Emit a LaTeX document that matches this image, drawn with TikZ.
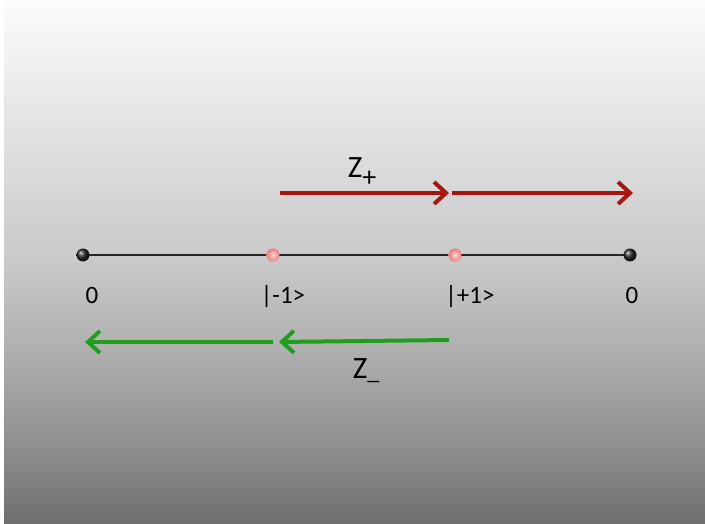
\documentclass[tikz,border=0pt]{standalone}
\usepackage{fontspec}
\setmainfont{Carlito}
\usetikzlibrary{arrows.meta}
\definecolor{g0}{RGB}{252,252,252}
\definecolor{g100}{RGB}{232,232,232}
\definecolor{g255}{RGB}{202,202,202}
\definecolor{g342}{RGB}{178,178,178}
\definecolor{g440}{RGB}{145,145,145}
\definecolor{g524}{RGB}{110,110,110}
\definecolor{zred}{RGB}{170,20,15}
\definecolor{zgreen}{RGB}{30,160,30}
\definecolor{pinkin}{RGB}{255,215,215}
\definecolor{pinkout}{RGB}{238,120,120}
\pgfdeclareverticalshading{bgshade}{100bp}{color(0bp)=(g524); color(25bp)=(g524); color(33bp)=(g440); color(42.4bp)=(g342); color(50.7bp)=(g255); color(65.5bp)=(g100); color(75bp)=(g0); color(100bp)=(g0)}
\tikzset{
  lbl/.style={font=\fontsize{25}{29}\selectfont, inner sep=0pt, anchor=base},
  zlbl/.style={font=\fontsize{31}{36}\selectfont, inner sep=0pt, anchor=base},
  redarrow/.style={draw=zred, line width=4pt, -{Straight Barb[length=12pt,width=22pt,line width=4pt]}},
  greenarrow/.style={draw=zgreen, line width=4pt, -{Straight Barb[length=12pt,width=22pt,line width=4pt]}},
  enddot/.style={circle, inner sep=0pt, minimum size=13pt, ball color=black!85},
  statedot/.style={circle, inner sep=0pt, minimum size=13pt, inner color=pinkin, outer color=pinkout},
}
\begin{document}
\begin{tikzpicture}[x=1pt,y=-1pt]
\useasboundingbox (0,0) rectangle (705,524);
\shade[shading=bgshade] (0,0) rectangle (705,524);
\fill[white] (0,0) rectangle (4,524);
% axis
\coordinate (L) at (83,255);
\coordinate (R) at (630,255);
\draw[line width=2pt, black!85] (L) -- (R);
\node[enddot] (d0) at (L) {};
\node[enddot] (d3) at (R) {};
\node[statedot] (dm) at (273,255) {};
\node[statedot] (dp) at (455,255) {};
% labels
\node[lbl] (l0) at (92,303) {0};
\node[lbl] (lm) at (283,303) {|-1>};
\node[lbl] (lp) at (470,303) {|+1>};
\node[lbl] (l3) at (632,303) {0};
% red arrows
\coordinate (r1a) at (280,193);
\coordinate (r1b) at (449,193);
\coordinate (r2a) at (452,193);
\coordinate (r2b) at (633,193);
\draw[redarrow] (r1a) -- (r1b);
\draw[redarrow] (r2a) -- (r2b);
\node[zlbl] (zp) at (362,178) {Z\raisebox{-9pt}{\fontsize{28}{30}\selectfont +}};
% green arrows
\coordinate (g1a) at (449,340);
\coordinate (g1b) at (279,342);
\coordinate (g2a) at (273,342);
\coordinate (g2b) at (85,342);
\draw[greenarrow] (g1a) -- (g1b);
\draw[greenarrow] (g2a) -- (g2b);
\node[zlbl] (zm) at (366,378) {Z\raisebox{-1pt}{\fontsize{24}{26}\selectfont\_}};
\end{tikzpicture}
\end{document}
